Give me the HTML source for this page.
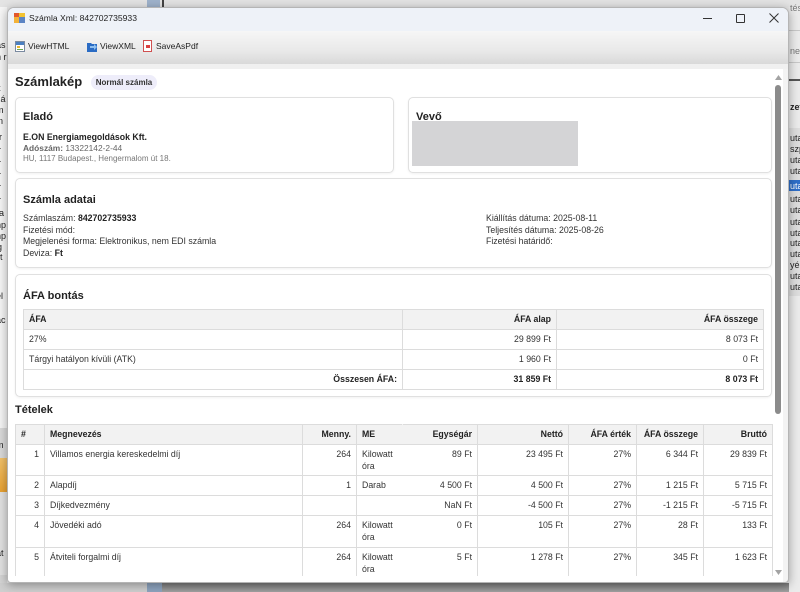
<!DOCTYPE html>
<html><head><meta charset="utf-8">
<style>
*{margin:0;padding:0;box-sizing:border-box}
html,body{width:800px;height:592px;overflow:hidden;background:#e6e6e6;font-family:"Liberation Sans",Arial,sans-serif;color:#333}
.a{position:absolute;white-space:nowrap}
.bgt{position:absolute;font-size:9px;color:#222;line-height:10px;white-space:nowrap}
.card{position:absolute;border:1px solid #e0e0e0;border-radius:5px;background:#fff;box-shadow:0 1px 2px rgba(0,0,0,0.06)}
.h{position:absolute;font-size:11px;font-weight:bold;color:#222;line-height:14px;white-space:nowrap}
.t{position:absolute;font-size:8.75px;line-height:12px;color:#333;white-space:nowrap}
table{position:absolute;border-collapse:collapse;table-layout:fixed;font-size:8.75px;color:#333}
td,th{border:1px solid #dcdcdc;padding:4px 5px 0 5px;vertical-align:top;line-height:11.7px;white-space:nowrap;overflow:hidden}
th{background:#f2f2f2;font-weight:bold;color:#222;text-align:left}
.r{text-align:right}
</style></head><body>

<!-- background behind window -->
<div class="a" style="left:0;top:0;width:800px;height:7px;background:#e4e4e4"></div>
<div class="a" style="left:147px;top:0;width:13px;height:7px;background:#9fb3cc"></div>
<div class="a" style="left:162px;top:0;width:2px;height:7px;background:#444"></div>
<div class="a" style="left:0;top:7px;width:7px;height:421px;background:#f6f6f6"></div>
<div class="a" style="left:0;top:428px;width:7px;height:30px;background:#dadada"></div>
<div class="a" style="left:0;top:458px;width:7px;height:34px;background:linear-gradient(#f3c26a,#e9a232)"></div>
<div class="a" style="left:0;top:492px;width:7px;height:83px;background:#e2e2e2"></div>
<div class="a" style="left:0;top:575px;width:7px;height:17px;background:#d4d4d4"></div>
<div class="a" style="left:0;top:583px;width:147px;height:9px;background:#cfcfcf"></div>
<div class="a" style="left:147px;top:583px;width:15px;height:9px;background:#8ea4bf"></div>
<div class="a" style="left:162px;top:583px;width:638px;height:9px;background:linear-gradient(#7a7a7a,#a2a2a2)"></div>
<div class="bgt" style="left:-4px;top:40px">ás</div>
<div class="bgt" style="left:-4px;top:52px">n r</div>
<div class="bgt" style="left:-6px;top:83px">lit</div>
<div class="bgt" style="left:-4px;top:94px">zá</div>
<div class="bgt" style="left:-4px;top:105px">m</div>
<div class="bgt" style="left:-4px;top:116px">in</div>
<div class="bgt" style="left:-3px;top:132px">ir</div>
<div class="bgt" style="left:-2px;top:145px">r</div>
<div class="bgt" style="left:-2px;top:158px">r</div>
<div class="bgt" style="left:-2px;top:170px">r</div>
<div class="bgt" style="left:-2px;top:182px">r</div>
<div class="bgt" style="left:-2px;top:195px">r</div>
<div class="bgt" style="left:-1px;top:208px">a</div>
<div class="bgt" style="left:-4px;top:220px">np</div>
<div class="bgt" style="left:-4px;top:231px">np</div>
<div class="bgt" style="left:-3px;top:242px">g</div>
<div class="bgt" style="left:-3px;top:252px">rt</div>
<div class="bgt" style="left:-4px;top:291px">el</div>
<div class="bgt" style="left:-4px;top:315px">ac</div>
<div class="bgt" style="left:-4px;top:440px">m</div>
<div class="bgt" style="left:-4px;top:548px">at</div>
<!-- right strip -->
<div class="a" style="left:789px;top:7px;width:11px;height:585px;background:#ebebeb"></div>
<div class="a" style="left:789px;top:30px;width:11px;height:1px;background:#c8c8c8"></div>
<div class="a" style="left:789px;top:62px;width:11px;height:1px;background:#c8c8c8"></div>
<div class="a" style="left:789px;top:79px;width:11px;height:2px;background:#555"></div>
<div class="a" style="left:789px;top:128px;width:11px;height:168px;background:#dedede"></div>
<div class="a" style="left:789px;top:180px;width:11px;height:11px;background:#2f6fc9"></div>
<div class="bgt" style="left:790px;top:3px;color:#777">tés</div>
<div class="bgt" style="left:790px;top:46px;color:#777">neg</div>
<div class="bgt" style="left:790px;top:102px;font-weight:bold">zet</div>
<div class="bgt" style="left:790px;top:133px">utaz</div>
<div class="bgt" style="left:790px;top:144px">szp</div>
<div class="bgt" style="left:790px;top:155px">utaz</div>
<div class="bgt" style="left:790px;top:166px">utaz</div>
<div class="bgt" style="left:790px;top:181px;color:#fff">utaz</div>
<div class="bgt" style="left:790px;top:194px">utaz</div>
<div class="bgt" style="left:790px;top:205px">utaz</div>
<div class="bgt" style="left:790px;top:217px">utaz</div>
<div class="bgt" style="left:790px;top:228px">utaz</div>
<div class="bgt" style="left:790px;top:238px">utaz</div>
<div class="bgt" style="left:790px;top:249px">utaz</div>
<div class="bgt" style="left:790px;top:260px">yé</div>
<div class="bgt" style="left:790px;top:271px">utaz</div>
<div class="bgt" style="left:790px;top:282px">utaz</div>

<!-- window -->
<div class="a" style="left:7px;top:7px;width:782px;height:576px;background:#f3f3f3;border:1px solid #b5b5b5;border-radius:7px 7px 4px 4px;box-shadow:0 2px 10px rgba(0,0,0,0.35);overflow:hidden">
  <div class="a" style="left:0;top:0;width:782px;height:23px;background:#eef2f8"></div>
  <div class="a" style="left:0;top:23px;width:782px;height:33px;background:linear-gradient(#f6f6f6,#e9e9e9 60%,#d9d9d9)"></div>
  <div class="a" style="left:0;top:56px;width:782px;height:5px;background:#f0f0f0"></div>
  <div class="a" style="left:0;top:61px;width:775px;height:515px;background:#fff"></div>
</div>

<!-- title bar -->
<svg class="a" style="left:14px;top:13px" width="11" height="10" viewBox="0 0 11 10">
  <rect x="0" y="0" width="5" height="4" fill="#e2572c"/><rect x="5" y="0" width="6" height="4" fill="#f2c230"/>
  <rect x="0" y="4" width="5" height="6" fill="#f2b23a"/><rect x="5" y="4" width="6" height="6" fill="#5b84c4"/>
</svg>
<div class="a" style="left:29px;top:12px;font-size:8.6px;line-height:12px;color:#222">Számla Xml: 842702735933</div>
<div class="a" style="left:703px;top:18px;width:9px;height:1px;background:#333"></div>
<div class="a" style="left:736px;top:14px;width:9px;height:9px;border:1px solid #333;border-radius:1px"></div>
<svg class="a" style="left:769px;top:13px" width="10" height="10" viewBox="0 0 10 10"><path d="M0.5 0.5L9.5 9.5M9.5 0.5L0.5 9.5" stroke="#333" stroke-width="1"/></svg>

<!-- toolbar -->
<svg class="a" style="left:15px;top:41px" width="10" height="11" viewBox="0 0 10 11">
  <rect x="0.5" y="0.5" width="9" height="10" fill="#fff" stroke="#7a8aa0"/><rect x="1" y="1" width="8" height="3" fill="#4a7fc1"/>
  <rect x="2" y="5" width="3" height="2" fill="#e8b730"/><rect x="2" y="8" width="6" height="1" fill="#69a84f"/>
</svg>
<div class="a" style="left:28px;top:40px;font-size:8.5px;line-height:12px;color:#222">ViewHTML</div>
<svg class="a" style="left:87px;top:41px" width="11" height="11" viewBox="0 0 11 11">
  <path d="M0 2h4l1 1h5v8H0z" fill="#2b6cc4"/><path d="M3 5h4v-2l3 3-3 3v-2H3z" fill="#8fc0f0"/>
</svg>
<div class="a" style="left:100px;top:40px;font-size:8.5px;line-height:12px;color:#222">ViewXML</div>
<svg class="a" style="left:143px;top:40px" width="9" height="12" viewBox="0 0 9 12">
  <rect x="0.5" y="0.5" width="8" height="11" fill="#fff" stroke="#d05050"/><rect x="3" y="5" width="4" height="3" fill="#d94040"/>
</svg>
<div class="a" style="left:156px;top:40px;font-size:8.5px;line-height:12px;color:#222">SaveAsPdf</div>

<!-- scrollbar -->
<svg class="a" style="left:775px;top:75px" width="7" height="5" viewBox="0 0 7 5"><path d="M0 5L3.5 0L7 5z" fill="#a3a3a3"/></svg>
<div class="a" style="left:775px;top:85px;width:6px;height:329px;background:#8b8b8b;border-radius:3px"></div>
<svg class="a" style="left:775px;top:570px" width="7" height="5" viewBox="0 0 7 5"><path d="M0 0L3.5 5L7 0z" fill="#a3a3a3"/></svg>

<!-- content (clipped) -->
<div class="a" style="left:0;top:0;width:800px;height:592px;clip-path:inset(68px 27px 16px 8px)">
  <div class="a" style="left:15px;top:74px;font-size:13px;font-weight:bold;line-height:16px;color:#222">Számlakép</div>
  <div class="a" style="left:91px;top:75px;width:66px;height:15px;background:#eeedfa;border-radius:8px;font-size:8px;font-weight:bold;line-height:15px;text-align:center;color:#333">Normál számla</div>

  <div class="card" style="left:15px;top:97px;width:379px;height:76px"></div>
  <div class="h" style="left:23px;top:110px">Eladó</div>
  <div class="t" style="left:23px;top:131px;font-weight:bold;color:#222">E.ON Energiamegoldások Kft.</div>
  <div class="t" style="left:23px;top:141.5px;font-size:8.4px;color:#666"><b>Adószám:</b> 13322142-2-44</div>
  <div class="t" style="left:23px;top:152.5px;font-size:8px;color:#777">HU, 1117 Budapest., Hengermalom út 18.</div>

  <div class="card" style="left:408px;top:97px;width:364px;height:76px"></div>
  <div class="h" style="left:416px;top:110px">Vevő</div>
  <div class="a" style="left:412px;top:121px;width:166px;height:45px;background:#d4d4d6"></div>

  <div class="card" style="left:15px;top:178px;width:757px;height:90px"></div>
  <div class="h" style="left:23px;top:192.5px">Számla adatai</div>
  <div class="t" style="left:23px;top:213px;line-height:11.5px">Számlaszám: <b style="color:#222">842702735933</b><br>Fizetési mód:<br>Megjelenési forma: Elektronikus, nem EDI számla<br>Deviza: <b style="color:#222">Ft</b></div>
  <div class="t" style="left:486px;top:213px;line-height:11.5px">Kiállítás dátuma: 2025-08-11<br>Teljesítés dátuma: 2025-08-26<br>Fizetési határidő:</div>

  <div class="card" style="left:15px;top:274px;width:757px;height:123px"></div>
  <div class="h" style="left:23px;top:288.5px">ÁFA bontás</div>
  <table style="left:23px;top:309px;width:740px">
    <colgroup><col style="width:379px"><col style="width:154px"><col style="width:207px"></colgroup>
    <tr style="height:20px"><th>ÁFA</th><th class="r">ÁFA alap</th><th class="r">ÁFA összege</th></tr>
    <tr style="height:20px"><td>27%</td><td class="r">29 899 Ft</td><td class="r">8 073 Ft</td></tr>
    <tr style="height:20px"><td>Tárgyi hatályon kívüli (ATK)</td><td class="r">1 960 Ft</td><td class="r">0 Ft</td></tr>
    <tr style="height:20px"><td class="r" style="font-weight:bold;color:#222">Összesen ÁFA:</td><td class="r" style="font-weight:bold;color:#222">31 859 Ft</td><td class="r" style="font-weight:bold;color:#222">8 073 Ft</td></tr>
  </table>

  <div class="h" style="left:15px;top:403px">Tételek</div>
  <table style="left:15px;top:424px;width:757px">
    <colgroup><col style="width:29px"><col style="width:258px"><col style="width:54px"><col style="width:46px"><col style="width:75px"><col style="width:91px"><col style="width:68px"><col style="width:67px"><col style="width:69px"></colgroup>
    <tr style="height:20px"><th>#</th><th>Megnevezés</th><th class="r">Menny.</th><th style="border-right-color:#f2f2f2">ME</th><th class="r" style="border-left-color:#f2f2f2">Egységár</th><th class="r">Nettó</th><th class="r">ÁFA érték</th><th class="r">ÁFA összege</th><th class="r">Bruttó</th></tr>
    <tr style="height:31px"><td class="r">1</td><td>Villamos energia kereskedelmi díj</td><td class="r">264</td><td style="border-right-color:#fff">Kilowatt<br>óra</td><td class="r" style="border-left-color:#fff">89 Ft</td><td class="r">23 495 Ft</td><td class="r">27%</td><td class="r">6 344 Ft</td><td class="r">29 839 Ft</td></tr>
    <tr style="height:20px"><td class="r">2</td><td>Alapdíj</td><td class="r">1</td><td style="border-right-color:#fff">Darab</td><td class="r" style="border-left-color:#fff">4 500 Ft</td><td class="r">4 500 Ft</td><td class="r">27%</td><td class="r">1 215 Ft</td><td class="r">5 715 Ft</td></tr>
    <tr style="height:20px"><td class="r">3</td><td>Díjkedvezmény</td><td class="r"></td><td style="border-right-color:#fff"></td><td class="r" style="border-left-color:#fff">NaN Ft</td><td class="r">-4 500 Ft</td><td class="r">27%</td><td class="r">-1 215 Ft</td><td class="r">-5 715 Ft</td></tr>
    <tr style="height:32px"><td class="r">4</td><td>Jövedéki adó</td><td class="r">264</td><td style="border-right-color:#fff">Kilowatt<br>óra</td><td class="r" style="border-left-color:#fff">0 Ft</td><td class="r">105 Ft</td><td class="r">27%</td><td class="r">28 Ft</td><td class="r">133 Ft</td></tr>
    <tr style="height:31px"><td class="r">5</td><td>Átviteli forgalmi díj</td><td class="r">264</td><td style="border-right-color:#fff">Kilowatt<br>óra</td><td class="r" style="border-left-color:#fff">5 Ft</td><td class="r">1 278 Ft</td><td class="r">27%</td><td class="r">345 Ft</td><td class="r">1 623 Ft</td></tr>
  </table>
</div>

</body></html>
